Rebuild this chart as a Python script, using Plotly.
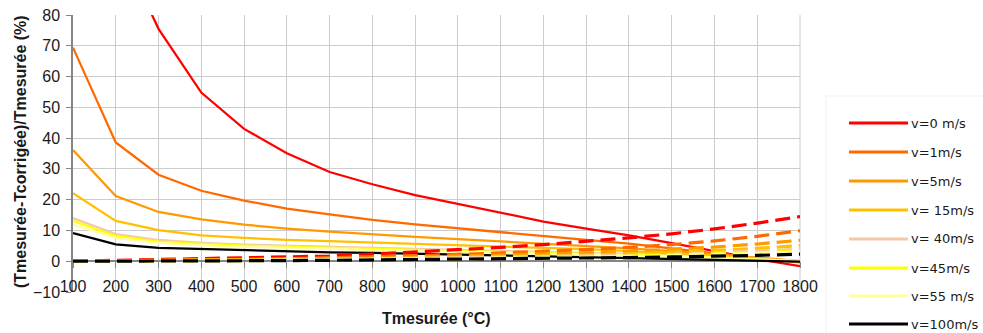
import plotly.graph_objects as go

# ---------------- data ----------------
temps = [100, 200, 300, 400, 500, 600, 700, 800, 900, 1000,
         1100, 1200, 1300, 1400, 1500, 1600, 1700, 1800]

series_names = ["v=0 m/s", "v=1m/s", "v=5m/s", "v= 15m/s",
                "v= 40m/s", "v=45m/s", "v=55 m/s", "v=100m/s"]
series_colors = ["#ff0000", "#ff6a00", "#ff9900", "#ffc000",
                 "#f6c8a6", "#ffff00", "#ffff99", "#000000"]

# solid curves
v0_solid = [150, 105, 75.5, 54.8, 43.0, 35.1, 29.0, 25.0, 21.5, 18.6,
            15.6, 12.9, 10.6, 8.4, 5.9, 3.2, 0.7, -1.6]
v1_solid = [69.4, 38.6, 28.1, 22.9, 19.7, 17.1, 15.2, 13.4, 12.0, 10.7,
            9.4, 8.0, 6.9, 5.7, 4.1, 2.5, 1.0, -0.4]
v5_solid = [36.1, 21.2, 16.0, 13.6, 11.9, 10.6, 9.6, 8.7, 7.9, 7.2,
            6.5, 5.7, 5.0, 4.2, 3.3, 2.3, 1.2, 0.0]
v15_solid = [22.1, 13.1, 10.1, 8.4, 7.6, 6.9, 6.5, 6.1, 5.7, 5.3,
             4.9, 4.4, 3.9, 3.3, 2.6, 1.8, 0.9, 0.0]
v40_solid = [14.0, 8.8, 6.9, 6.0, 5.4, 5.0, 4.6, 4.3, 4.0, 3.7,
             3.4, 3.1, 2.8, 2.4, 1.9, 1.3, 0.7, 0.0]
v45_solid = [13.1, 8.2, 6.4, 5.6, 5.1, 4.7, 4.3, 4.0, 3.7, 3.4,
             3.1, 2.8, 2.5, 2.1, 1.7, 1.2, 0.6, 0.0]
v55_solid = [11.9, 7.6, 6.0, 5.2, 4.7, 4.3, 4.0, 3.7, 3.4, 3.1,
             2.9, 2.6, 2.3, 2.0, 1.6, 1.1, 0.5, 0.0]
v100_solid = [9.1, 5.5, 4.3, 3.9, 3.6, 3.2, 2.9, 2.7, 2.4, 2.1,
              1.8, 1.5, 1.2, 0.9, 0.6, 0.3, 0.1, -0.1]

# dashed curves
v0_dash = [0.0, 0.3, 0.5, 0.8, 1.0, 1.3, 1.7, 2.3, 3.0, 3.7,
           4.5, 5.4, 6.4, 7.6, 8.9, 10.5, 12.4, 14.5]
v1_dash = [0.0, 0.1, 0.2, 0.4, 0.6, 0.8, 1.1, 1.4, 1.8, 2.2,
           2.7, 3.2, 3.8, 4.5, 5.4, 6.6, 8.1, 9.9]
v5_dash = [0.0, 0.1, 0.2, 0.3, 0.4, 0.6, 0.8, 1.0, 1.3, 1.6,
           1.9, 2.3, 2.7, 3.2, 3.8, 4.6, 5.6, 6.8]
v15_dash = [0.0, 0.1, 0.1, 0.2, 0.3, 0.4, 0.6, 0.8, 1.0, 1.2,
            1.4, 1.7, 2.0, 2.4, 2.9, 3.5, 4.2, 5.1]
v40_dash = [0.0, 0.0, 0.1, 0.2, 0.2, 0.3, 0.5, 0.6, 0.8, 0.9,
            1.1, 1.3, 1.6, 1.9, 2.2, 2.7, 3.2, 3.9]
v45_dash = [0.0, 0.0, 0.1, 0.1, 0.2, 0.3, 0.4, 0.5, 0.7, 0.8,
            1.0, 1.1, 1.3, 1.6, 1.9, 2.3, 2.7, 3.3]
v55_dash = [0.0, 0.0, 0.1, 0.1, 0.2, 0.3, 0.4, 0.5, 0.6, 0.7,
            0.9, 1.0, 1.2, 1.4, 1.7, 2.1, 2.5, 3.0]
v100_dash = [0.0, 0.0, 0.0, 0.1, 0.1, 0.2, 0.3, 0.4, 0.5, 0.6,
             0.7, 0.8, 1.0, 1.2, 1.4, 1.6, 1.9, 2.3]

solid_series = [v0_solid, v1_solid, v5_solid, v15_solid,
                v40_solid, v45_solid, v55_solid, v100_solid]
dash_series = [v0_dash, v1_dash, v5_dash, v15_dash,
               v40_dash, v45_dash, v55_dash, v100_dash]

x_ticks = list(range(100, 1801, 100))
y_ticks = list(range(-10, 81, 10))

x_title = "Tmesurée (°C)"
y_title = "(Tmesurée-Tcorrigée)/Tmesurée (%)"

# ---------------- figure ----------------
W, H = 983, 333
L, R, T, B = 73, 183, 15, 41
PW, PH = W - L - R, H - T - B

fig = go.Figure()

for name, col, ys in zip(series_names, series_colors, solid_series):
    fig.add_trace(go.Scatter(x=temps, y=ys, mode="lines", name=name,
                             line=dict(color=col, width=2.25),
                             showlegend=False))
for name, col, ys in zip(series_names, series_colors, dash_series):
    fig.add_trace(go.Scatter(x=temps, y=ys, mode="lines", name=name + " (pointillé)",
                             line=dict(color=col, width=3.2, dash="15px,7px"),
                             showlegend=False))

# dummy trace so the secondary x axis (axis line at y=0) is drawn
fig.add_trace(go.Scatter(x=[100, 1800], y=[None, None], xaxis="x2",
                         showlegend=False, hoverinfo="skip"))

font_main = "Liberation Sans, Arial, sans-serif"
axis_grey = "#868686"

fig.update_layout(
    width=W, height=H,
    margin=dict(l=L, r=R, t=T, b=B, autoexpand=False),
    paper_bgcolor="white", plot_bgcolor="white",
    font=dict(family=font_main, size=16, color="#1a1a1a"),
    xaxis=dict(range=[100, 1800], tickmode="array", tickvals=x_ticks,
               showgrid=True, gridcolor="#cccccc", gridwidth=1,
               zeroline=False, showline=False, ticks="", automargin=False,
               tickfont=dict(size=16, color="#1a1a1a"),
               ticklabelstandoff=-17, layer="below traces"),
    xaxis2=dict(matches="x", overlaying="x", anchor="free",
                position=10 / 90, side="bottom", automargin=False,
                showgrid=False, zeroline=False, showline=True,
                linecolor=axis_grey, linewidth=1.5, layer="below traces",
                ticks="outside", ticklen=6, tickcolor=axis_grey,
                tickmode="array", tickvals=x_ticks, showticklabels=False),
    yaxis=dict(range=[-10, 80], tickmode="array", tickvals=y_ticks,
               showgrid=True, gridcolor="#cccccc", gridwidth=1,
               zeroline=False, showline=True, linecolor=axis_grey,
               linewidth=1.5, ticks="outside", ticklen=5, automargin=False,
               tickcolor=axis_grey, tickfont=dict(size=16, color="#1a1a1a"),
               ticklabelstandoff=3, layer="below traces"),
    showlegend=False,
)

# right border of plot area
fig.add_shape(type="line", xref="paper", yref="paper", x0=1, x1=1, y0=0, y1=1,
              line=dict(color="#cccccc", width=1), layer="below")

# axis titles
fig.add_annotation(text="<b>" + x_title + "</b>", xref="paper", yref="paper",
                   x=(436 - L) / PW, y=(H - B - 318) / PH, showarrow=False,
                   font=dict(size=16, color="#1a1a1a"), xanchor="center", yanchor="middle")
fig.add_annotation(text="<b>" + y_title + "</b>", xref="paper", yref="paper",
                   x=(20 - L) / PW, y=(H - B - 152) / PH, showarrow=False, textangle=-90,
                   font=dict(size=16, color="#1a1a1a"), xanchor="center", yanchor="middle")

# legend (drawn manually)
fig.add_shape(type="rect", xref="paper", yref="paper",
              x0=(826 - L) / PW, x1=(990 - L) / PW, y0=(H - B - 340) / PH, y1=(H - B - 96) / PH,
              line=dict(color="#efefef", width=1), fillcolor="rgba(0,0,0,0)")
leg_y = [123, 152, 181, 210, 239, 268, 296, 324]
for name, col, yy in zip(series_names, series_colors, leg_y):
    yp = (H - B - yy) / PH
    fig.add_shape(type="line", xref="paper", yref="paper",
                  x0=(849 - L) / PW, x1=(908 - L) / PW, y0=yp, y1=yp,
                  line=dict(color=col, width=3))
    fig.add_annotation(text=name, xref="paper", yref="paper",
                       x=(909 - L) / PW, y=yp, showarrow=False,
                       xanchor="left", yanchor="middle",
                       font=dict(family="DejaVu Sans", size=13, color="#1a1a1a"))

fig.write_html("out.html", config={"displayModeBar": False},
               post_script="document.body.style.margin='0px';document.body.style.overflow='hidden';")
